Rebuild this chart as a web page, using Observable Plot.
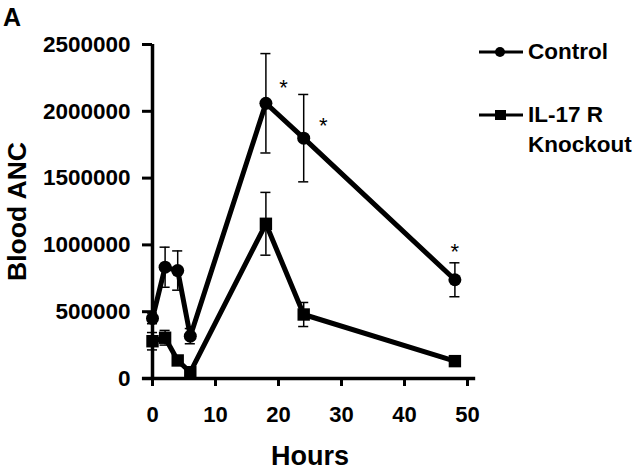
<!DOCTYPE html>
<html>
<head>
<meta charset="utf-8">
<script src="https://cdn.jsdelivr.net/npm/d3@7"></script>
<script src="https://cdn.jsdelivr.net/npm/@observablehq/plot@0.6"></script>
<style>
  html, body { margin: 0; padding: 0; background: #fff; }
  #wrap { position: relative; width: 640px; height: 472px; font-family: "Liberation Sans", Arial, sans-serif; font-weight: bold; color: #000; }
  #panel { position: absolute; left: 3px; top: 3px; font-size: 25px; }
  .leg { position: absolute; font-size: 22.5px; line-height: 30px; }
  .legsym { position: absolute; }
</style>
</head>
<body>
<div id="wrap">
  <div id="chart"></div>
  <div id="panel">A</div>
  <svg class="legsym" style="left:476px;top:40px" width="50" height="90">
    <line x1="3" x2="47" y1="12" y2="12" stroke="#000" stroke-width="3"/>
    <circle cx="24" cy="12" r="5" fill="#000"/>
    <line x1="3" x2="47" y1="75" y2="75" stroke="#000" stroke-width="3"/>
    <rect x="19" y="70" width="11" height="10" fill="#000"/>
  </svg>
  <div class="leg" style="left:528px;top:37px">Control</div>
  <div class="leg" style="left:528px;top:100px">IL-17 R<br>Knockout</div>
</div>
<script>
const hours = [0, 2, 4, 6, 18, 24, 48];
const controlMean = [450000, 833000, 808000, 317000, 2060000, 1799000, 739000];
const controlErr  = [40000, 150000, 147000, 57000, 372000, 327000, 127000];
const koMean = [279000, 305000, 135000, 47000, 1158000, 479000, 130000];
const koErr  = [65000, 55000, 30000, 25000, 235000, 90000, 25000];
const xTicks = [0, 10, 20, 30, 40, 50];
const yTicks = [0, 500000, 1000000, 1500000, 2000000, 2500000];
const starX = [20.8, 27.1, 48];
const starY = [2210000, 1930000, 985000];

const control = hours.map((t, i) => ({t, v: controlMean[i], e: controlErr[i]}));
const ko = hours.map((t, i) => ({t, v: koMean[i], e: koErr[i]}));
const both = control.concat(ko);
const stars = starX.map((x, i) => ({x, y: starY[i]}));
const cap = 0.8;

const chart = Plot.plot({
  width: 640,
  height: 472,
  marginLeft: 152,
  marginRight: 173,
  marginTop: 44,
  marginBottom: 94,
  style: {fontFamily: "Liberation Sans, Arial, sans-serif", fontWeight: "bold", fontSize: "22px", color: "#000", background: "transparent"},
  x: {domain: [0, 50]},
  y: {domain: [0, 2500000]},
  marks: [
    Plot.ruleX(both, {x: "t", y1: d => d.v - d.e, y2: d => d.v + d.e, stroke: "#000", strokeWidth: 1.5}),
    Plot.ruleY(both, {y: d => d.v + d.e, x1: d => d.t - cap, x2: d => d.t + cap, stroke: "#000", strokeWidth: 1.5}),
    Plot.ruleY(both, {y: d => d.v - d.e, x1: d => d.t - cap, x2: d => d.t + cap, stroke: "#000", strokeWidth: 1.5}),
    Plot.line(control, {x: "t", y: "v", stroke: "#000", strokeWidth: 5}),
    Plot.line(ko, {x: "t", y: "v", stroke: "#000", strokeWidth: 5}),
    Plot.dot(control, {x: "t", y: "v", r: 6.5, fill: "#000", symbol: "circle"}),
    Plot.dot(ko, {x: "t", y: "v", r: 7, fill: "#000", symbol: "square"}),
    Plot.text(stars, {x: "x", y: "y", text: () => "*", fontSize: 22, fontWeight: "normal", dy: 5}),
    Plot.ruleX([0], {y1: 0, y2: 2500000, stroke: "#000", strokeWidth: 3.5}),
    Plot.ruleY([0], {x1: -1.6, x2: 51.3, stroke: "#000", strokeWidth: 3.5}),
    Plot.axisY({ticks: yTicks, tickFormat: d => String(d), tickSize: 10, tickPadding: 12, strokeWidth: 3, fontSize: 22.5, fontWeight: "bold", label: null}),
    Plot.axisX({ticks: xTicks, tickFormat: d => String(d), tickSize: 8, tickPadding: 20, strokeWidth: 3, fontSize: 22, fontWeight: "bold", label: null}),
    Plot.text(["Hours"], {frameAnchor: "bottom", dy: 86, fontSize: 27, fontWeight: "bold"}),
    Plot.text(["Blood ANC"], {frameAnchor: "left", textAnchor: "middle", dx: -135, rotate: -90, fontSize: 26.5, fontWeight: "bold"})
  ]
});
document.getElementById("chart").appendChild(chart);
</script>
</body>
</html>
